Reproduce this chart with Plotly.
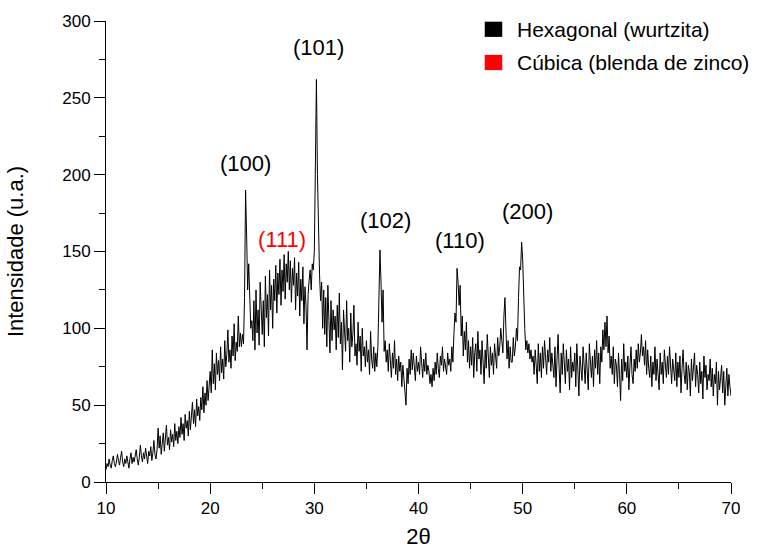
import numpy as np
import plotly.graph_objects as go

# XRD pattern: 2-theta from 10 to 70 deg, 0.1 deg step (one row per degree)
two_theta_start = 10.0
two_theta_step = 0.1
intensity_rows = [
    [8, 12, 10, 15, 11, 9, 14, 17, 12, 10],          # 10
    [13, 18, 14, 11, 16, 20, 13, 10, 15, 12],        # 11
    [17, 14, 9, 15, 19, 12, 16, 13, 18, 21],         # 12
    [15, 11, 16, 24, 17, 13, 19, 15, 22, 16],        # 13
    [12, 20, 17, 23, 14, 19, 27, 18, 15, 21],        # 14
    [35, 22, 30, 18, 26, 32, 20, 28, 37, 24],        # 15
    [29, 21, 34, 26, 31, 23, 38, 27, 33, 25],        # 16
    [36, 29, 42, 31, 38, 27, 44, 35, 40, 30],        # 17
    [46, 34, 41, 52, 38, 47, 36, 54, 43, 49],        # 18
    [40, 55, 47, 62, 45, 58, 50, 66, 53, 60],        # 19
    [72, 58, 86, 64, 77, 60, 84, 70, 79, 66],        # 20
    [88, 71, 80, 67, 92, 75, 83, 99, 78, 86],        # 21
    [74, 95, 82, 103, 79, 91, 85, 108, 88, 97],      # 22
    [88, 96, 90, 120, 190, 160, 125, 142, 112, 100], # 23
    [105, 92, 118, 86, 125, 97, 112, 89, 130, 104],  # 24
    [96, 118, 88, 134, 107, 122, 95, 138, 112, 128], # 25
    [100, 132, 118, 141, 110, 136, 122, 145, 115, 138],  # 26
    [124, 148, 119, 142, 130, 150, 125, 144, 117, 139],  # 27
    [128, 146, 112, 136, 121, 143, 108, 132, 118, 140],  # 28
    [103, 127, 115, 86, 122, 131, 138, 125, 142, 138],   # 29
    [150, 205, 262, 200, 160, 135, 118, 130, 100, 125],  # 30
    [96, 120, 88, 128, 105, 84, 118, 92, 112, 99],   # 31
    [108, 86, 115, 94, 123, 90, 104, 73, 112, 95],   # 32
    [85, 118, 92, 100, 78, 110, 88, 96, 115, 82],    # 33
    [90, 76, 104, 85, 95, 72, 100, 82, 88, 75],      # 34
    [92, 78, 86, 70, 98, 80, 74, 88, 72, 84],        # 35
    [75, 88, 112, 151, 130, 104, 125, 85, 92, 78],   # 36
    [86, 72, 90, 77, 68, 84, 74, 92, 70, 80],        # 37
    [66, 82, 72, 78, 62, 76, 68, 60, 50, 74],        # 38
    [64, 80, 70, 86, 73, 84, 77, 66, 82, 72],        # 39
    [78, 70, 88, 74, 68, 80, 72, 84, 70, 76],        # 40
    [72, 64, 70, 62, 74, 66, 78, 70, 84, 74],        # 41
    [68, 82, 76, 88, 72, 80, 74, 70, 84, 76],        # 42
    [80, 72, 88, 78, 96, 110, 104, 139, 130, 115],   # 43
    [128, 95, 108, 82, 98, 86, 104, 78, 92, 74],     # 44
    [88, 76, 94, 68, 84, 90, 72, 98, 80, 86],        # 45
    [70, 92, 78, 64, 86, 74, 96, 80, 68, 88],        # 46
    [76, 84, 70, 90, 80, 74, 94, 82, 88, 100],       # 47
    [92, 84, 108, 120, 98, 80, 92, 74, 88, 78],      # 48
    [78, 94, 82, 88, 100, 92, 120, 140, 138, 156],   # 49
    [145, 112, 100, 86, 92, 84, 90, 80, 86, 78],     # 50
    [82, 70, 86, 76, 64, 90, 72, 84, 68, 88],        # 51
    [74, 92, 80, 70, 86, 78, 94, 72, 84, 76],        # 52
    [68, 88, 62, 80, 96, 74, 58, 84, 70, 90],        # 53
    [76, 64, 86, 72, 80, 60, 88, 68, 78, 72],        # 54
    [84, 62, 90, 70, 56, 82, 74, 66, 88, 70],        # 55
    [64, 84, 72, 60, 90, 76, 68, 82, 62, 86],        # 56
    [74, 92, 70, 84, 64, 88, 78, 99, 86, 104],       # 57
    [88, 108, 84, 95, 74, 82, 70, 88, 64, 80],       # 58
    [76, 62, 84, 70, 53, 80, 66, 90, 72, 78],        # 59
    [68, 82, 60, 76, 88, 70, 64, 80, 72, 86],        # 60
    [74, 90, 78, 84, 96, 82, 88, 76, 92, 70],        # 61
    [86, 74, 68, 82, 62, 78, 70, 88, 66, 80],        # 62
    [72, 60, 84, 70, 78, 64, 86, 74, 68, 82],        # 63
    [70, 88, 76, 64, 80, 72, 66, 84, 62, 78],        # 64
    [68, 82, 58, 74, 86, 70, 64, 78, 60, 76],        # 65
    [72, 56, 80, 66, 74, 84, 62, 76, 70, 58],        # 66
    [78, 64, 72, 54, 82, 68, 76, 60, 70, 66],        # 67
    [80, 62, 74, 56, 70, 64, 78, 50, 72, 60],        # 68
    [68, 76, 58, 72, 50, 66, 74, 56, 70, 62],        # 69
    [56],                                            # 70
]
intensity = [v for row in intensity_rows for v in row]
two_theta = two_theta_start + two_theta_step * np.arange(len(intensity))

# Reflection labels: (text, 2theta, intensity position, colour)
peak_labels = ["(100)", "(111)", "(101)", "(102)", "(110)", "(200)"]
peak_x = [23.4, 26.9, 30.4, 36.8, 44.0, 50.5]
peak_y = [207, 158, 283, 170, 157, 176]
peak_colors = ["black", "red", "black", "black", "black", "black"]

legend_names = ["Hexagonal (wurtzita)", "Cúbica (blenda de zinco)"]
legend_colors = ["black", "red"]

FONT = "Liberation Sans, Arial, sans-serif"

fig = go.Figure()
fig.add_trace(go.Scatter(
    x=two_theta, y=intensity, mode="lines",
    line=dict(color="black", width=1),
    showlegend=False, hoverinfo="skip",
))

for txt, px_, py_, col in zip(peak_labels, peak_x, peak_y, peak_colors):
    fig.add_annotation(x=px_, y=py_, text=txt, showarrow=False,
                       xanchor="center", yanchor="middle",
                       font=dict(family=FONT, size=22, color=col))

# Legend drawn as coloured squares with text
legend_y = [0.982, 0.910]
for name, col, ly in zip(legend_names, legend_colors, legend_y):
    fig.add_shape(type="rect", xref="paper", yref="paper",
                  x0=0.606, x1=0.634, y0=ly - 0.0165, y1=ly + 0.0165,
                  fillcolor=col, line=dict(width=0))
    fig.add_annotation(xref="paper", yref="paper", x=0.654, y=ly,
                       text=name, showarrow=False, xanchor="left",
                       yanchor="middle",
                       font=dict(family=FONT, size=21, color="black"))

axis_common = dict(
    showline=True, linecolor="black", linewidth=1,
    ticks="outside", ticklen=11, tickwidth=1, tickcolor="black",
    showgrid=False, zeroline=False, mirror=False, automargin=False,
    tickfont=dict(family=FONT, size=17, color="black"),
)

fig.update_xaxes(
    range=[10, 70], tickvals=[10, 20, 30, 40, 50, 60, 70],
    minor=dict(ticks="outside", ticklen=6, dtick=5, tick0=10,
               tickcolor="black", showgrid=False),
    title=dict(text="2θ", font=dict(family=FONT, size=22, color="black"),
               standoff=15),
    **axis_common,
)
fig.update_yaxes(
    range=[0, 300], tickvals=[0, 50, 100, 150, 200, 250, 300],
    minor=dict(ticks="outside", ticklen=6, dtick=25, tick0=0,
               tickcolor="black", showgrid=False),
    title=dict(text="Intensidade (u.a.)",
               font=dict(family=FONT, size=22, color="black"), standoff=32),
    **axis_common,
)

fig.update_layout(
    width=763, height=549,
    margin=dict(l=106, r=32, t=21, b=67),
    plot_bgcolor="white", paper_bgcolor="white",
    showlegend=False,
)

fig.write_html("out.html")
